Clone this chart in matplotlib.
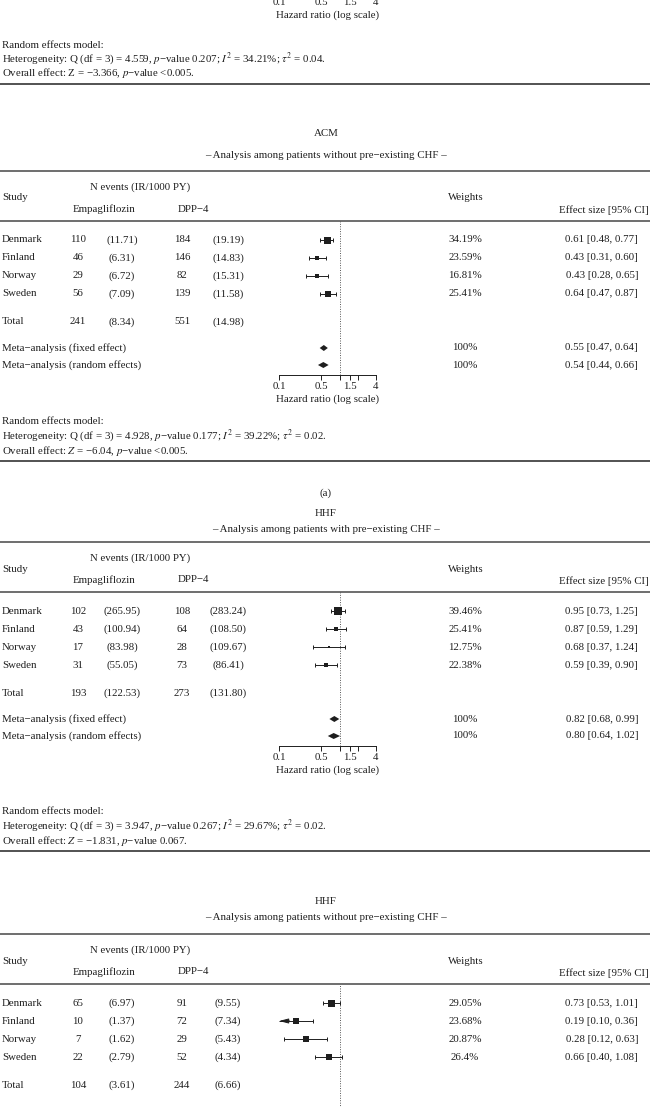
import matplotlib.pyplot as plt
import numpy as np
from matplotlib.ticker import NullLocator

W, H = 650, 1107
DPI = 100
FS = 7.8
INK = "#1e1e1e"
RULE = "#555555"

plt.rcParams["font.family"] = ["Liberation Serif", "DejaVu Serif"]
plt.rcParams["mathtext.fontset"] = "stix"

countries = ["Denmark", "Finland", "Norway", "Sweden"]

# previous panel (cut off at the top) - only its footer is visible
prev_stats = ["4.559", "0.207", "34.21", "0.04", "−3.366", "<0.005"]

# ACM - without pre-existing CHF
acm_emp_n = [110, 46, 29, 56]
acm_emp_ir = [11.71, 6.31, 6.72, 7.09]
acm_dpp_n = [184, 146, 82, 139]
acm_dpp_ir = [19.19, 14.83, 15.31, 11.58]
acm_weights = [34.19, 23.59, 16.81, 25.41]
acm_hr = [0.61, 0.43, 0.43, 0.64]
acm_lo = [0.48, 0.31, 0.28, 0.47]
acm_hi = [0.77, 0.60, 0.65, 0.87]
acm_total = [241, 8.34, 551, 14.98]
acm_fixed = [0.55, 0.47, 0.64]
acm_random = [0.54, 0.44, 0.66]
acm_stats = ["4.928", "0.177", "39.22", "0.02", "−6.04", "<0.005"]

# HHF - with pre-existing CHF
hw_emp_n = [102, 43, 17, 31]
hw_emp_ir = [265.95, 100.94, 83.98, 55.05]
hw_dpp_n = [108, 64, 28, 73]
hw_dpp_ir = [283.24, 108.50, 109.67, 86.41]
hw_weights = [39.46, 25.41, 12.75, 22.38]
hw_hr = [0.95, 0.87, 0.68, 0.59]
hw_lo = [0.73, 0.59, 0.37, 0.39]
hw_hi = [1.25, 1.29, 1.24, 0.90]
hw_total = [193, 122.53, 273, 131.80]
hw_fixed = [0.82, 0.68, 0.99]
hw_random = [0.80, 0.64, 1.02]
hw_stats = ["3.947", "0.267", "29.67", "0.02", "−1.831", "0.067"]

# HHF - without pre-existing CHF
hn_emp_n = [65, 10, 7, 22]
hn_emp_ir = [6.97, 1.37, 1.62, 2.79]
hn_dpp_n = [91, 72, 29, 52]
hn_dpp_ir = [9.55, 7.34, 5.43, 4.34]
hn_weights = [29.05, 23.68, 20.87, 26.4]
hn_hr = [0.73, 0.19, 0.28, 0.66]
hn_lo = [0.53, 0.10, 0.12, 0.40]
hn_hi = [1.01, 0.36, 0.63, 1.08]
hn_total = [104, 3.61, 244, 6.66]

ticks = [0.1, 0.5, 1, 1.5, 2, 4]
tick_labels = ["0.1", "0.5", "", "1.5", "", "4"]

fig = plt.figure(figsize=(W / DPI, H / DPI), dpi=DPI)
bg = fig.add_axes([0, 0, 1, 1])
bg.set_xlim(0, W)
bg.set_ylim(H, 0)
bg.axis("off")


def txt(x, y, s, ha="left", **kw):
    bg.text(x, y, s, ha=ha, va="center", fontsize=FS, color=INK, **kw)


def rule(y, lw=1.2, color=RULE):
    bg.plot([0, W], [y, y], color=color, lw=lw, solid_capstyle="butt")


def forest_axis(top, axis_y, show_axis=True):
    ax = fig.add_axes([279 / W, 1 - axis_y / H, 97 / W, (axis_y - top) / H])
    ax.set_xscale("log")
    ax.set_xlim(0.1, 4)
    ax.set_ylim(axis_y, top)
    ax.patch.set_alpha(0)
    for s in ["top", "left", "right"]:
        ax.spines[s].set_visible(False)
    ax.set_yticks([])
    ax.xaxis.set_minor_locator(NullLocator())
    if not show_axis:
        ax.spines["bottom"].set_visible(False)
        ax.set_xticks([])
        return ax
    ax.spines["bottom"].set_bounds(0.1, 4)
    ax.spines["bottom"].set_linewidth(0.7)
    ax.spines["bottom"].set_color(INK)
    ax.set_xticks(ticks)
    ax.set_xticklabels(tick_labels)
    ax.tick_params(axis="x", direction="out", length=3.8, width=0.7,
                   color=INK, labelsize=FS, labelcolor=INK, pad=1.5)
    ax.set_xlabel("Hazard ratio (log scale)", fontsize=FS, color=INK, labelpad=2)
    return ax


def stats_block(y0, vals, z_italic=True):
    q, p, i2, t2, z, pz = vals
    zz = "$Z$" if z_italic else "Z"
    txt(2, y0, "Random effects model:")
    txt(2, y0 + 14, rf"Heterogeneity: Q (df = 3) = {q}, $p$−value {p}; $I^2$ = {i2}%; $\tau^2$ = {t2}.")
    txt(2, y0 + 28.5, rf"Overall effect: {zz} = {z}, $p$−value {pz}.")
    rule(y0 + 39, lw=1.3, color="#444444")


def panel(T, title, sub, title_y, sub_y, emp_n, emp_ir, dpp_n, dpp_ir,
          weights, hr, lo, hi, total, fixed=None, random=None, show_axis=True):
    txt(326, title_y, title, ha="center")
    txt(326, sub_y, sub, ha="center")
    rule(T)
    txt(90, T + 16, "N events (IR/1000 PY)")
    txt(2, T + 27, "Study")
    txt(466, T + 27, "Weights", ha="center")
    txt(73, T + 38, "Empagliflozin")
    txt(178, T + 38, "DPP−4")
    txt(649, T + 39, "Effect size [95% CI]", ha="right")
    rule(T + 50)

    ys = T + np.array([69, 87, 105, 123])
    for i, c in enumerate(countries):
        txt(2, ys[i], c)
        txt(78, ys[i], f"{emp_n[i]}", ha="center")
        txt(122, ys[i], f"({emp_ir[i]:.2f})", ha="center")
        txt(182, ys[i], f"{dpp_n[i]}", ha="center")
        txt(228, ys[i], f"({dpp_ir[i]:.2f})", ha="center")
        txt(465, ys[i], f"{weights[i]:g}%", ha="center")
        txt(638, ys[i], f"{hr[i]:.2f} [{lo[i]:.2f}, {hi[i]:.2f}]", ha="right")
    yt = T + 151
    txt(2, yt, "Total")
    txt(78, yt, f"{total[0]}", ha="center")
    txt(122, yt, f"({total[1]:.2f})", ha="center")
    txt(182, yt, f"{total[2]}", ha="center")
    txt(228, yt, f"({total[3]:.2f})", ha="center")

    axis_y = T + 204
    ax = forest_axis(T + 50, axis_y, show_axis)
    ax.axvline(1, color="#555555", lw=0.7, ls=(0, (1, 1.5)))

    hr = np.array(hr)
    lo = np.array(lo)
    hi = np.array(hi)
    w = np.array(weights)
    ax.hlines(ys, lo, hi, color=INK, lw=0.7)
    ax.plot(hi, ys, "|", color=INK, ms=3.2, mew=0.7)
    cut = lo <= 0.1
    ax.plot(lo[~cut], ys[~cut], "|", color=INK, ms=3.2, mew=0.7)
    for x, y in zip(lo[cut], ys[cut]):
        ax.annotate("", xy=(x, y), xytext=(x * 1.5, y),
                    arrowprops=dict(arrowstyle="-|>,head_length=0.7,head_width=0.18",
                                    mutation_scale=8, lw=0.7, color=INK,
                                    shrinkA=0, shrinkB=0))
    side = 7.0 * w / w.max()
    for x, y, s in zip(hr, ys, side):
        ax.plot(x, y, "s", color=INK, ms=s * 72 / DPI, mew=0)

    hh = 3.0
    for vals, name, yy in [(fixed, "Meta−analysis (fixed effect)", T + 177),
                           (random, "Meta−analysis (random effects)", T + 194)]:
        if vals is None:
            continue
        e, l, h = vals
        ax.fill([l, e, h, e], [yy, yy - hh, yy, yy + hh], color=INK, lw=0)
        txt(2, yy, name)
        txt(465, yy, "100%", ha="center")
        txt(638, yy, f"{e:.2f} [{l:.2f}, {h:.2f}]", ha="right")


# previous panel footer (its axis sits just above the figure)
forest_axis(-200, -9)
stats_block(45, prev_stats, z_italic=False)

panel(171, "ACM", "– Analysis among patients without pre−existing CHF –", 133, 156,
      acm_emp_n, acm_emp_ir, acm_dpp_n, acm_dpp_ir, acm_weights,
      acm_hr, acm_lo, acm_hi, acm_total, acm_fixed, acm_random)
stats_block(422, acm_stats)
txt(326, 493, "(a)", ha="center")

panel(542, "HHF", "– Analysis among patients with pre−existing CHF –", 514, 529,
      hw_emp_n, hw_emp_ir, hw_dpp_n, hw_dpp_ir, hw_weights,
      hw_hr, hw_lo, hw_hi, hw_total, hw_fixed, hw_random)
stats_block(812, hw_stats)

panel(934, "HHF", "– Analysis among patients without pre−existing CHF –", 901, 918,
      hn_emp_n, hn_emp_ir, hn_dpp_n, hn_dpp_ir, hn_weights,
      hn_hr, hn_lo, hn_hi, hn_total, show_axis=False)

fig.savefig("out.png", dpi=DPI)
